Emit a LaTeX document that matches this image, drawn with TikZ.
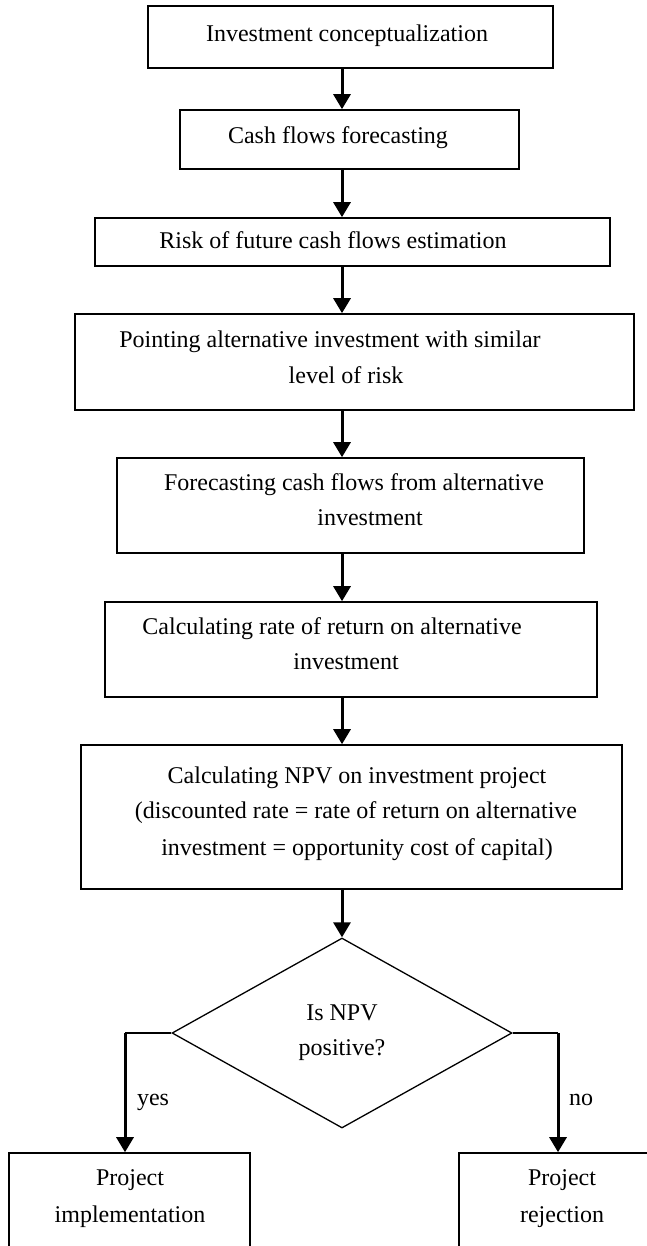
\documentclass[tikz,border=0pt]{standalone}
\usepackage{fontspec}
\setmainfont{Liberation Serif}
\usetikzlibrary{arrows.meta,shapes.geometric}
\begin{document}
\begin{tikzpicture}[x=1pt,y=-1pt,
  box/.style={draw, line width=1.6pt, inner sep=0pt},
  lbl/.style={font=\fontsize{24}{36}\selectfont, inner sep=0pt, text height=16pt, text depth=5pt},
  mlbl/.style={font=\fontsize{24}{37}\selectfont, inner sep=0pt, align=center},
  flow/.style={line width=3pt, -{Triangle[length=15pt,width=17pt]}},
  branch/.style={line width=1.3pt}]
\useasboundingbox (0,0) rectangle (646,1246);

% boxes
\node[box, minimum width=405pt, minimum height=62pt] (b1) at (350.5,37) {};
\node[box, minimum width=339pt, minimum height=59pt] (b2) at (349.5,139.5) {};
\node[box, minimum width=515pt, minimum height=48pt] (b3) at (352.5,242) {};
\node[box, minimum width=559pt, minimum height=96pt] (b4) at (354.5,362) {};
\node[box, minimum width=467pt, minimum height=95pt] (b5) at (350.5,505.5) {};
\node[box, minimum width=492pt, minimum height=95pt] (b6) at (351,649.5) {};
\node[box, minimum width=541pt, minimum height=144pt] (b7) at (351.5,817) {};
\node[draw, diamond, line width=1.3pt, inner sep=0pt, minimum width=340pt, minimum height=190pt,
      font=\fontsize{24}{35}\selectfont, align=center] (dia) at (342,1033) {Is NPV\\positive?};
\node[box, minimum width=241pt, minimum height=107pt] (yes) at (129.5,1206.5) {};
\node[box, minimum width=207pt, minimum height=107pt] (no) at (562.5,1206.5) {};

% texts
\node[lbl] (t1) at (347,36) {Investment conceptualization};
\node[lbl] (t2) at (338,138) {Cash flows forecasting};
\node[lbl] (t3) at (333,243) {Risk of future cash flows estimation};
\node[lbl] (t4a) at (330,342) {Pointing alternative investment with similar};
\node[lbl] (t4b) at (346,378) {level of risk};
\node[lbl] (t5a) at (354,485) {Forecasting cash flows from alternative};
\node[lbl] (t5b) at (370,520) {investment};
\node[lbl] (t6a) at (332,629) {Calculating rate of return on alternative};
\node[lbl] (t6b) at (346,664) {investment};
\node[lbl] (t7a) at (357,778) {Calculating NPV on investment project};
\node[lbl] (t7b) at (356,813) {(discounted rate = rate of return on alternative};
\node[lbl] (t7c) at (357,850) {investment = opportunity cost of capital)};
\node[mlbl] (ty) at (130,1198.5) {Project\\implementation};
\node[mlbl] (tn) at (562,1198.5) {Project\\rejection};
\node[lbl] (lyes) at (153,1100) {yes};
\node[lbl] (lno) at (581,1100) {no};

% connectors
\draw[flow] (b1.south -| dia) -- (b2.north -| dia);
\draw[flow] (b2.south -| dia) -- (b3.north -| dia);
\draw[flow] (b3.south -| dia) -- (b4.north -| dia);
\draw[flow] (b4.south -| dia) -- (b5.north -| dia);
\draw[flow] (b5.south -| dia) -- (b6.north -| dia);
\draw[flow] (b6.south -| dia) -- (b7.north -| dia);
\draw[flow] (b7.south -| dia) -- (dia.north);
\coordinate (yc) at (125,1033);
\coordinate (nc) at (558,1033);
\draw[branch] (dia.west) -- (yc);
\draw[branch] (dia.east) -- (nc);
\draw[flow] (yc) -- (yc |- yes.north);
\draw[flow] (nc) -- (nc |- no.north);
\end{tikzpicture}
\end{document}
